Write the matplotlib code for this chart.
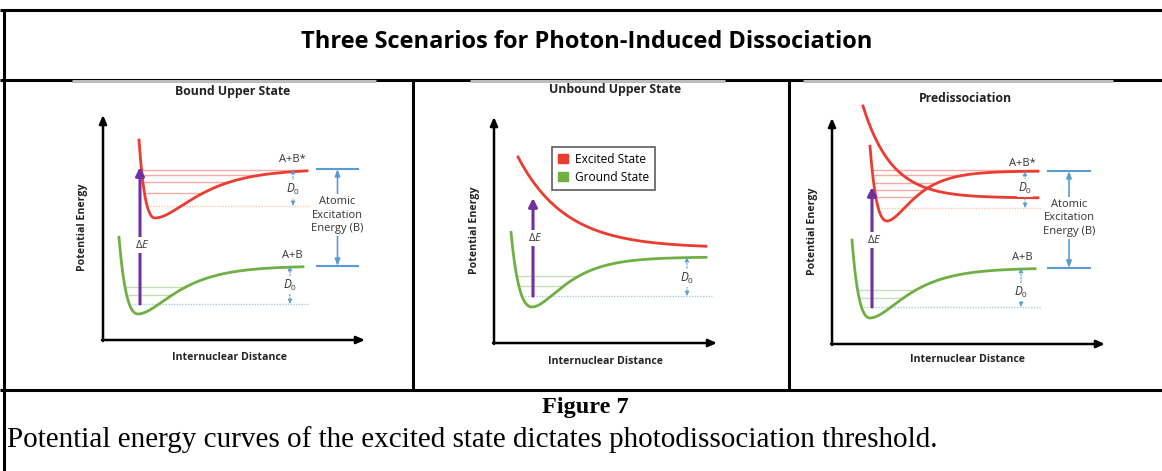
import numpy as np
import matplotlib
matplotlib.use("Agg")
import matplotlib.pyplot as plt
from matplotlib.patches import Patch

plt.rcParams["font.family"] = ["Open Sans", "DejaVu Sans"]
plt.rcParams["mathtext.fontset"] = "custom"
plt.rcParams["mathtext.rm"] = "Open Sans"
plt.rcParams["mathtext.it"] = "Open Sans:italic"

W, H = 1162, 471

panel_titles = ["Bound Upper State", "Unbound Upper State", "Predissociation"]

# Morse wells: r_e, E_min, E_limit, steepness inside / outside, r start, r end
ground_wells = [
    (35, 26, 74, 0.043, 0.029, 16, 200),
    (38, 36, 86, 0.038, 0.033, 17, 212),
    (38, 26, 76, 0.045, 0.030, 20, 203),
]
excited_wells = [
    (52, 122, 171, 0.051, 0.026, 36, 204),
    None,
    (55, 123, 173, 0.047, 0.041, 38, 206),
]
# repulsive curves: r start, E at start, E limit, decay, r end
repulsive = [
    None,
    (24, 186, 95, 0.021, 212),
    (31, 238, 146, 0.035, 206),
]
# vibrational levels (the first one is the zero-point level)
ground_levels = [[36, 45, 53], [47, 57, 67], [37, 46, 54]]
excited_levels = [[134, 147, 158, 165, 170], [], [136, 147, 154, 161, 169, 174]]
# photon arrow: r, E from, E to, label height
photon = [(37, 36, 173, 95), (39, 47, 145, 105), (40, 37, 157, 104)]

RED = "#ec3b2f"
GREEN = "#6fb043"
PURPLE = "#7030a0"
BLUE = "#5b9bd5"
TXT = "#333333"


def morse(r, re, emin, elim, a_in, a_out):
    a = np.where(r < re, a_in, a_out)
    return emin + (elim - emin) * (1 - np.exp(-a * (r - re))) ** 2


def well_curve(p):
    re, emin, elim, a_in, a_out, r0, r1 = p
    r = np.linspace(r0, r1, 600)
    return r, morse(r, re, emin, elim, a_in, a_out)


def repulsive_curve(p):
    r0, e0, elim, b, r1 = p
    r = np.linspace(r0, r1, 600)
    return r, elim + (e0 - elim) * np.exp(-b * (r - r0))


def turning_points(r, e, level):
    inside = r[e <= level]
    return inside.min(), inside.max()


fig = plt.figure(figsize=(W / 100, H / 100), dpi=100)
frame = fig.add_axes([0, 0, 1, 1])
frame.set_xlim(0, W)
frame.set_ylim(H, 0)
frame.axis("off")

# table borders
lk = dict(color="black", lw=2.2, solid_capstyle="butt")
frame.plot([0, W], [10, 10], **lk)
frame.plot([4, 4], [10, H], **lk)
frame.plot([0, W], [80, 80], **lk)
frame.plot([0, W], [390, 390], **lk)
frame.plot([413, 413], [80, 390], **lk)
frame.plot([789, 789], [80, 390], **lk)
for x0, x1 in [(72, 376), (470, 725), (803, 1113)]:
    frame.plot([x0, x1], [80.5, 80.5], color="#bdbdbd", lw=2.2, solid_capstyle="butt")

frame.text(587, 42, "Three Scenarios for Photon-Induced Dissociation", ha="center",
           va="center", fontsize=17, fontweight="bold")
frame.text(585, 407, "Figure 7", ha="center", va="center", fontsize=17.5,
           fontweight="bold", family="Liberation Serif")
frame.text(7, 440, "Potential energy curves of the excited state dictates photodissociation threshold.",
           ha="left", va="center", fontsize=21, family="Liberation Serif")

# panel axes origin and arrow lengths in pixels
origins = [(103, 340), (494, 343), (832, 344)]
lengths = [(262, 225), (223, 226), (273, 226)]
title_pos = [(130, 249), (121, 254), (133, 245)]
ylabel_r = [-21, -19, -19]
xlabel_pos = [(127, -17), (111, -18), (136, -15)]

axes = []
for i in range(3):
    ox, oy = origins[i]
    lx, ly = lengths[i]
    ax = fig.add_axes([ox / W, (H - oy) / H, lx / W, ly / H])
    ax.set_xlim(0, lx)
    ax.set_ylim(0, ly)
    ax.axis("off")
    ax.annotate("", xy=(lx, 0), xytext=(-1, 0),
                arrowprops=dict(arrowstyle="-|>,head_length=0.5,head_width=0.22", color="black", lw=1.8,
                                shrinkA=0, shrinkB=0))
    ax.annotate("", xy=(0, ly), xytext=(0, -1),
                arrowprops=dict(arrowstyle="-|>,head_length=0.5,head_width=0.22", color="black", lw=1.8,
                                shrinkA=0, shrinkB=0))
    ax.text(*title_pos[i], panel_titles[i], ha="center", va="center", fontsize=8.8,
            fontweight="bold", color="#222222", clip_on=False)
    ax.text(ylabel_r[i], ly / 2, "Potential Energy", rotation=90, ha="center", va="center",
            fontsize=7.6, fontweight="bold", color="#222222", clip_on=False)
    ax.text(*xlabel_pos[i], "Internuclear Distance", ha="center", va="center", fontsize=7.6,
            fontweight="bold", color="#222222", clip_on=False)
    axes.append(ax)


def draw_levels(ax, r, e, levels, line_color, zp_color, r_end):
    for k, lev in enumerate(levels):
        a, b = turning_points(r, e, lev)
        if k == 0:
            ax.plot([a, r_end], [lev, lev], color=zp_color, lw=1.0, ls=(0, (1, 1)), zorder=1,
                    clip_on=False)
        else:
            ax.plot([a, b], [lev, lev], color=line_color, lw=1.0, zorder=1, clip_on=False)


def d0_arrow(ax, r, e0, e1, label_e):
    ax.annotate("", xy=(r, e1), xytext=(r, e0),
                arrowprops=dict(arrowstyle="<|-|>,head_length=0.25,head_width=0.12", color=BLUE,
                                lw=0.8, ls=(0, (1.5, 1.5)), shrinkA=0, shrinkB=0), zorder=3)
    ax.text(r, label_e, "$D_0$", ha="center", va="center", fontsize=8.5, color=TXT,
            bbox=dict(boxstyle="square,pad=0.1", fc="white", ec="none"), zorder=4, clip_on=False)


def bracket(ax, r0, r1, e_top, e_bot, label_e):
    rm = (r0 + r1) / 2
    for ev in (e_top, e_bot):
        ax.plot([r0, r1], [ev, ev], color=BLUE, lw=1.5, clip_on=False)
    ax.annotate("", xy=(rm, e_top), xytext=(rm, e_bot),
                arrowprops=dict(arrowstyle="<|-|>,head_length=0.4,head_width=0.15", color=BLUE,
                                lw=1.2, shrinkA=0, shrinkB=0), annotation_clip=False)
    ax.text(rm, label_e, "Atomic\nExcitation\nEnergy (B)", ha="center", va="center",
            fontsize=8, color=TXT, linespacing=1.35,
            bbox=dict(boxstyle="square,pad=0.15", fc="white", ec="none"), clip_on=False)


for i, ax in enumerate(axes):
    rg, eg = well_curve(ground_wells[i])
    r_end = ground_wells[i][6] + 6
    draw_levels(ax, rg, eg, ground_levels[i], "#c5e0b4", "#a9cbea", r_end)
    ax.plot(rg, eg, color=GREEN, lw=2.0, zorder=2, clip_on=False)

    if excited_wells[i] is not None:
        rx, ex = well_curve(excited_wells[i])
        draw_levels(ax, rx, ex, excited_levels[i], "#f5aca6", "#f8cbad", excited_wells[i][6] + 4)
        ax.plot(rx, ex, color=RED, lw=2.0, zorder=2, clip_on=False)
    if repulsive[i] is not None:
        rr, er = repulsive_curve(repulsive[i])
        ax.plot(rr, er, color=RED, lw=2.0, zorder=2, clip_on=False)

    pr, pe0, pe1, pl = photon[i]
    ax.annotate("", xy=(pr, pe1), xytext=(pr, pe0),
                arrowprops=dict(arrowstyle="-|>,head_length=0.5,head_width=0.25", color=PURPLE,
                                lw=2.2, shrinkA=0, shrinkB=0), zorder=5)
    ax.text(pr + 2, pl, r"$\mathrm{\Delta}E$", ha="center", va="center",
            fontsize=8, color=TXT,
            bbox=dict(boxstyle="square,pad=0.15", fc="white", ec="none"), zorder=6)

# bound upper state
ax = axes[0]
d0_arrow(ax, 190, 134, 171, 151)
d0_arrow(ax, 187, 36, 74, 55)
ax.text(189, 180, "A+B*", ha="center", va="center", fontsize=8, color=TXT)
ax.text(189, 85, "A+B", ha="center", va="center", fontsize=8, color=TXT)
bracket(ax, 214, 255, 171, 74, 125)

# unbound upper state
ax = axes[1]
d0_arrow(ax, 193, 47, 86, 65)
ax.legend(handles=[Patch(color=RED, label="Excited State"), Patch(color=GREEN, label="Ground State")],
          loc="upper left", bbox_to_anchor=(58, 196), bbox_transform=ax.transData,
          fontsize=8.6, frameon=True, fancybox=False, edgecolor="#333333", handlelength=0.8,
          handleheight=0.8, handletextpad=0.6, borderpad=0.5, labelspacing=0.4, borderaxespad=0)
ax.get_legend().get_frame().set_linewidth(1.2)

# predissociation
ax = axes[2]
d0_arrow(ax, 193, 136, 173, 156)
d0_arrow(ax, 189, 37, 76, 52)
ax.text(190, 181, "A+B*", ha="center", va="center", fontsize=8, color=TXT)
ax.text(190, 86, "A+B", ha="center", va="center", fontsize=8, color=TXT)
bracket(ax, 216, 258, 173, 76, 126)

fig.savefig("out.png", dpi=100)
